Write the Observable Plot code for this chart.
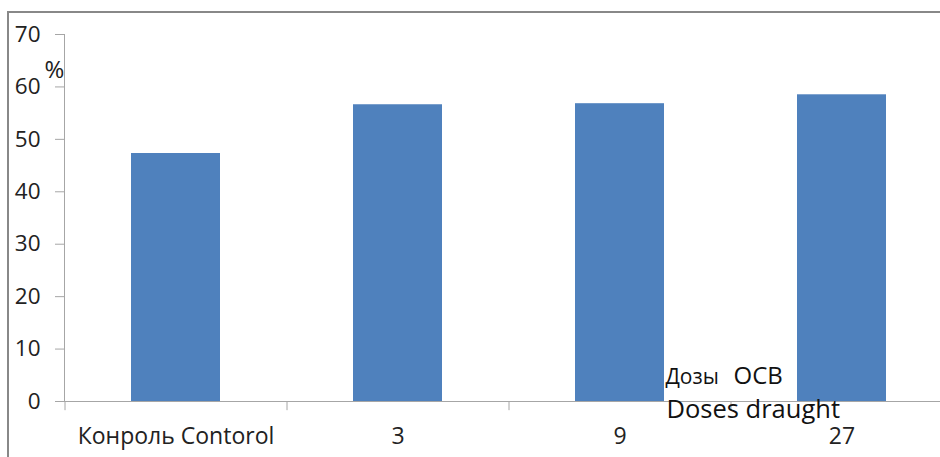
<!DOCTYPE html>
<html>
<head>
<meta charset="utf-8">
<script src="https://cdn.jsdelivr.net/npm/d3@7"></script>
<script src="https://cdn.jsdelivr.net/npm/@observablehq/plot@0.6"></script>
<style>
  html, body { margin: 0; padding: 0; background: #fff; }
  #wrap { position: relative; width: 940px; height: 457px; overflow: hidden; }
  #border { position: absolute; left: 7px; top: 11px; width: 1000px; height: 1000px; border: 2px solid #888; box-sizing: border-box; }
  #chart { position: absolute; left: 0; top: 0; }
  svg { overflow: visible; }
</style>
</head>
<body>
<div id="wrap"><div id="border"></div><div id="chart"></div></div>
<script>
const categories = ["Конроль Contorol", "3", "9", "27"];
const values = [47.3, 56.6, 56.8, 58.5];
const yTicks = [0, 10, 20, 30, 40, 50, 60, 70];
const unitLabel = "%";
const noteLine1a = "Дозы";
const noteLine1b = "ОСВ";
const noteLine2 = "Doses draught";

const data = categories.map((c, i) => ({cat: c, v: values[i]}));
const font = "'Open Sans', sans-serif";

const chart = Plot.plot({
  width: 940,
  height: 457,
  marginLeft: 64,
  marginRight: 0,
  marginTop: 34,
  marginBottom: 56,
  style: {fontFamily: font, background: "transparent", overflow: "visible"},
  x: {domain: categories, range: [64, 952], paddingInner: 0.6, paddingOuter: 0.3},
  y: {domain: [0, 70]},
  marks: [
    Plot.barY(data, {x: "cat", y: "v", fill: "#4F81BD"}),
    Plot.frame({anchor: "left", stroke: "#a6a6a6", strokeOpacity: 1}),
    Plot.frame({anchor: "bottom", stroke: "#a6a6a6", strokeOpacity: 1}),
    Plot.ruleX(categories, {x: d => d, dx: -111, y1: 0, y2: -1.75, stroke: "#a6a6a6"}),
    Plot.ruleX([categories[categories.length - 1]], {x: d => d, dx: 111, y1: 0, y2: -1.75, stroke: "#a6a6a6"}),
    Plot.axisY({ticks: yTicks, tickSize: 9, tickPadding: 15, fontSize: 22.5, stroke: "#a6a6a6", fill: "#222", strokeOpacity: 1, label: null}),
    Plot.axisX({tickSize: 0, tickPadding: 26, fontSize: 23, fill: "#222", label: null}),
    Plot.text([unitLabel], {frameAnchor: "top-left", dx: -20, dy: 26, fontSize: 24, fill: "#222", textAnchor: "start", lineAnchor: "top"}),
    Plot.text([noteLine1a], {frameAnchor: "bottom-left", dx: 601, dy: -18, fontSize: 21, fill: "#111", textAnchor: "start", lineAnchor: "bottom"}),
    Plot.text([noteLine1b], {frameAnchor: "bottom-left", dx: 669, dy: -18, fontSize: 24, fill: "#111", textAnchor: "start", lineAnchor: "bottom"}),
    Plot.text([noteLine2], {frameAnchor: "bottom-left", dx: 602, dy: 16, fontSize: 25.5, fill: "#111", textAnchor: "start", lineAnchor: "bottom"})
  ]
});
document.getElementById("chart").appendChild(chart);
</script>
</body>
</html>
